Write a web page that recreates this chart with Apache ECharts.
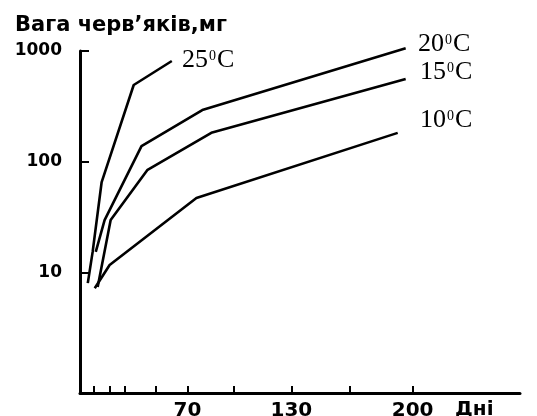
<!DOCTYPE html>
<html lang="uk">
<head>
<meta charset="UTF-8">
<title></title>
<style>
    html, body {
        margin: 0;
        padding: 0;
        background: #fff;
    }
    #chart {
        width: 537px;
        height: 416px;
    }
</style>
</head>
<body>
<div id="chart"></div>
<script src="https://cdn.jsdelivr.net/npm/echarts@6/dist/echarts.min.js"></script>
<script>
    // дні / вага (мг)
    var days25 = [12.5, 15.3, 20.5, 39, 61];
    var mg25 = [8.1, 15.5, 66, 494, 813];
    var days20 = [17.1, 22.2, 43.5, 78.6, 196];
    var mg20 = [15.5, 30, 139, 294, 1060];
    var days15 = [18.2, 25.7, 47, 83.8, 196];
    var mg15 = [7.5, 30, 85, 183, 560];
    var days10 = [16.5, 25.1, 75.2, 191.4];
    var mg10 = [7.3, 11.8, 47.4, 183];

    var temps = ['25', '20', '15', '10'];
    var dayTicks = [16, 25, 34, 52, 70, 97, 130, 164, 200];
    var dayLabels = [70, 130, 200];

    var myChart = echarts.init(document.getElementById('chart'));

    function pairs(d, v) {
        return d.map(function (x, i) { return [x, v[i]]; });
    }

    function curve(name, d, v) {
        return {
            name: name,
            type: 'line',
            xAxisIndex: 0,
            yAxisIndex: 0,
            data: pairs(d, v),
            symbol: 'none',
            clip: false,
            silent: true,
            lineStyle: { color: '#000', width: 2.6 }
        };
    }

    var serif = {
        n: { fontFamily: 'Liberation Serif', fontSize: 26, verticalAlign: 'top', fill: '#000' },
        s: { fontFamily: 'Liberation Serif', fontSize: 14, verticalAlign: 'top', fill: '#000', padding: [2, 1, 0, 1] }
    };
    function tempLabel(t, x, y) {
        return {
            type: 'text',
            left: x,
            top: y,
            style: { text: '{n|' + t + '}{s|0}{n|C}', rich: serif, fill: '#000' }
        };
    }

    var axisFont = { fontFamily: 'DejaVu Sans', fontWeight: 'bold', color: '#000' };

    var option = {
        animation: false,
        backgroundColor: '#fff',
        grid: [
            { left: 80, right: 17, top: 51, bottom: 23, outerBoundsMode: 'none' },
            // окрема сітка лише для поділок 10–1000
            { left: 80, right: 17, top: 51, height: 222, outerBoundsMode: 'none' }
        ],
        xAxis: [{
            type: 'value',
            gridIndex: 0,
            min: 8,
            max: 262,
            axisLine: { lineStyle: { color: '#000', width: 3 } },
            axisTick: { inside: true, length: 7, customValues: dayTicks, lineStyle: { color: '#000', width: 2 } },
            axisLabel: Object.assign({ customValues: dayLabels, fontSize: 20, margin: 8 }, axisFont),
            splitLine: { show: false }
        }, {
            type: 'value',
            gridIndex: 1,
            show: false
        }],
        yAxis: [{
            type: 'log',
            gridIndex: 0,
            min: 0.83,
            max: 1000,
            axisLine: { show: true, lineStyle: { color: '#000', width: 3 } },
            axisTick: { show: false },
            axisLabel: { show: false },
            splitLine: { show: false }
        }, {
            type: 'log',
            gridIndex: 1,
            min: 10,
            max: 1000,
            axisLine: { show: false },
            axisTick: { inside: true, length: 9, lineStyle: { color: '#000', width: 2 } },
            axisLabel: Object.assign({
                fontSize: 17,
                margin: 18,
                padding: [0, 0, 6, 0],
                formatter: function (v) { return String(Math.round(v)); }
            }, axisFont),
            splitLine: { show: false }
        }],
        graphic: [
            {
                type: 'text',
                left: 15,
                top: 15,
                style: { text: 'Вага черв’яків,мг', font: 'bold 21px "DejaVu Sans"', fill: '#000' }
            },
            {
                type: 'text',
                left: 455,
                top: 400,
                style: { text: 'Дні', font: 'bold 20px "DejaVu Sans"', fill: '#000' }
            },
            tempLabel(temps[0], 182, 47),
            tempLabel(temps[1], 418, 31),
            tempLabel(temps[2], 420, 59),
            tempLabel(temps[3], 420, 107)
        ],
        series: [
            curve(temps[0], days25, mg25),
            curve(temps[1], days20, mg20),
            curve(temps[2], days15, mg15),
            curve(temps[3], days10, mg10)
        ]
    };

    myChart.setOption(option);
</script>
</body>
</html>
